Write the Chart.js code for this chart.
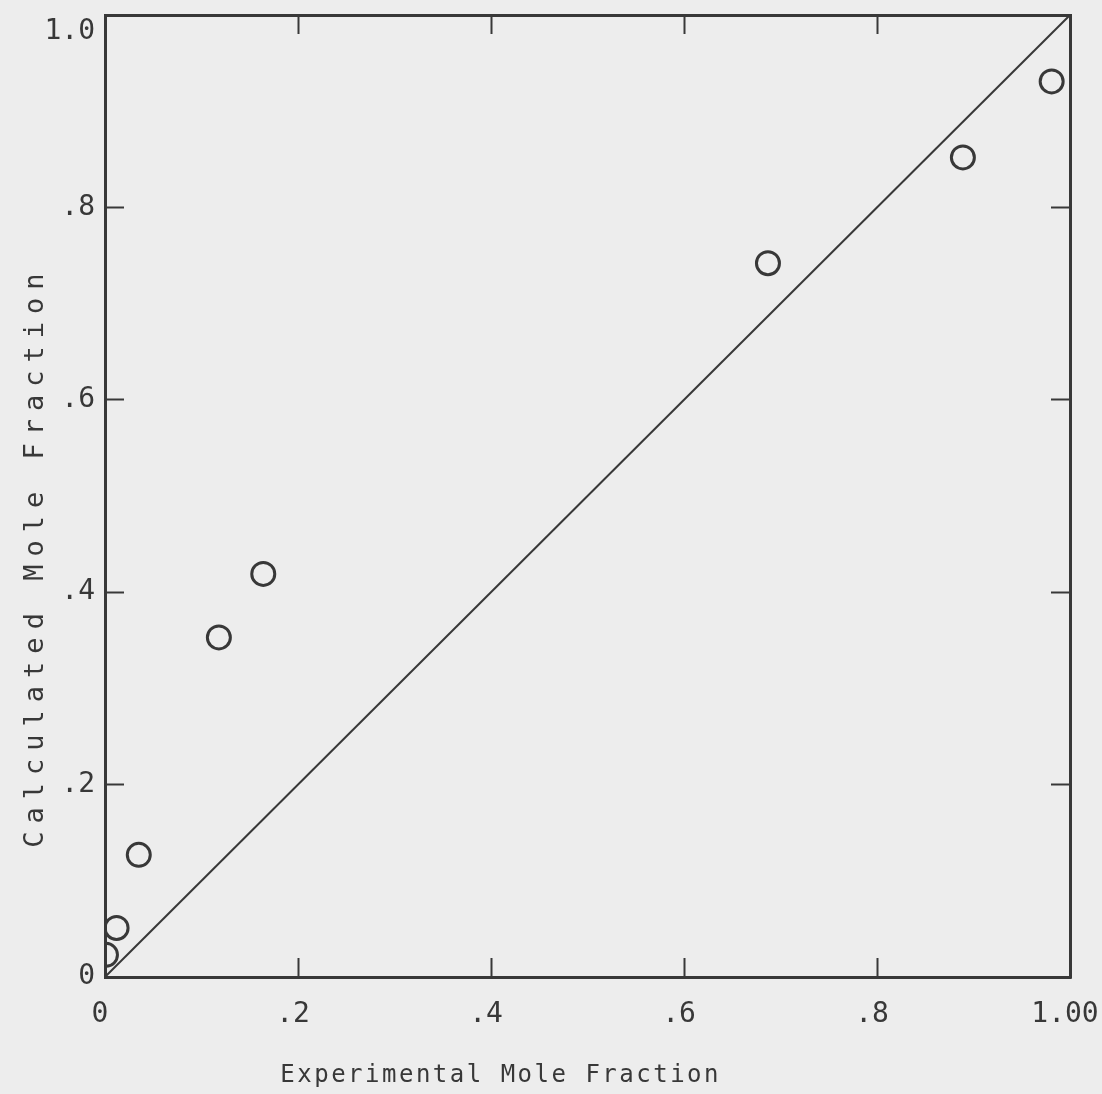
<!DOCTYPE html>
<html>
<head>
<meta charset="utf-8">
<title>Calculated vs Experimental Mole Fraction</title>
<script src="https://cdn.jsdelivr.net/npm/chart.js@4.4.1/dist/chart.umd.min.js"></script>
<style>
  html, body { margin: 0; padding: 0; background: #ededed; }
  canvas { display: block; }
</style>
</head>
<body>
<canvas id="chart" width="1102" height="1094"></canvas>
<script>
// --- data ---
const experimental = [0.001, 0.012, 0.035, 0.118, 0.164, 0.687, 0.889, 0.981];
const calculated   = [0.023, 0.051, 0.127, 0.353, 0.419, 0.742, 0.852, 0.931];
const parityLineX  = [0, 1];
const parityLineY  = [0, 1];
const xTickLabels  = ['0', '.2', '.4', '.6', '.8', '1.00'];
const yTickLabels  = ['0', '.2', '.4', '.6', '.8', '1.0'];
const xTitle = 'Experimental Mole Fraction';
const yTitle = 'Calculated Mole Fraction';

const ink = '#383838';
const mono = '"DejaVu Sans Mono", "Liberation Mono", monospace';

// axis titles drawn by hand so the wide typewriter spacing can be kept
const titlesPlugin = {
    id: 'titles',
    beforeDraw(chart) {
        const ctx = chart.ctx;
        ctx.save();
        ctx.fillStyle = '#ededed';
        ctx.fillRect(0, 0, chart.width, chart.height);
        ctx.restore();
    },
    afterDraw(chart) {
        const ctx = chart.ctx;
        const area = chart.chartArea;
        ctx.save();
        ctx.fillStyle = ink;
        ctx.textAlign = 'center';
        ctx.textBaseline = 'middle';

        ctx.font = '24px ' + mono;
        ctx.letterSpacing = '2.5px';
        ctx.fillText(xTitle, area.left + (area.right - area.left) * 0.41, area.bottom + 99);

        ctx.translate(36, area.top + (area.bottom - area.top) * 0.563);
        ctx.rotate(-Math.PI / 2);
        ctx.font = '27px ' + mono;
        ctx.letterSpacing = '8px';
        ctx.fillText(yTitle, 0, 0);
        ctx.restore();
    }
};

function axisGrid() {
    return {
        drawOnChartArea: false,
        drawTicks: true,
        tickLength: -19,
        tickWidth: 2,
        tickColor: ink
    };
}

// fix the frame size and drop the overflow padding chart.js adds for edge labels
function fitTo(size) {
    return s => {
        if (s.isHorizontal()) s.height = size; else s.width = size;
        s.paddingLeft = 0;
        s.paddingRight = 0;
        s.paddingTop = 0;
        s.paddingBottom = 0;
    };
}

const ctx = document.getElementById('chart').getContext('2d');
new Chart(ctx, {
    data: {
        datasets: [
            {
                type: 'line',
                data: parityLineX.map((x, i) => ({ x: x, y: parityLineY[i] })),
                borderColor: ink,
                borderWidth: 2,
                pointRadius: 0,
                fill: false,
                clip: 0
            },
            {
                type: 'scatter',
                data: experimental.map((x, i) => ({ x: x, y: calculated[i] })),
                pointStyle: 'circle',
                pointRadius: 11.5,
                pointBorderWidth: 3,
                pointBackgroundColor: 'rgba(0,0,0,0)',
                pointBorderColor: ink,
                clip: 0
            }
        ]
    },
    options: {
        responsive: false,
        devicePixelRatio: 1,
        animation: false,
        layout: { padding: 0 },
        plugins: {
            legend: { display: false },
            tooltip: { enabled: false }
        },
        scales: {
            x: {
                type: 'linear',
                position: 'bottom',
                min: 0,
                max: 1,
                afterFit: fitTo(117),
                border: { color: ink, width: 3 },
                grid: axisGrid(),
                ticks: {
                    stepSize: 0.2,
                    padding: 40,
                    labelOffset: -5,
                    color: ink,
                    font: { family: mono, size: 28 },
                    maxRotation: 0,
                    callback: (v, i) => xTickLabels[i]
                }
            },
            x2: {
                type: 'linear',
                position: 'top',
                min: 0,
                max: 1,
                afterFit: fitTo(15),
                border: { color: ink, width: 3 },
                grid: axisGrid(),
                ticks: { stepSize: 0.2, display: false }
            },
            y: {
                type: 'linear',
                position: 'left',
                min: 0,
                max: 1,
                afterFit: fitTo(105),
                border: { color: ink, width: 3 },
                grid: axisGrid(),
                ticks: {
                    stepSize: 0.2,
                    padding: 29,
                    color: ink,
                    font: { family: mono, size: 28 },
                    // top label sits just below the corner, as in the original
                    callback: (v, i) => i === yTickLabels.length - 1 ? ['', yTickLabels[i]] : yTickLabels[i]
                }
            },
            y2: {
                type: 'linear',
                position: 'right',
                min: 0,
                max: 1,
                afterFit: fitTo(32),
                border: { color: ink, width: 3 },
                grid: axisGrid(),
                ticks: { stepSize: 0.2, display: false }
            }
        }
    },
    plugins: [titlesPlugin]
});
</script>
</body>
</html>
